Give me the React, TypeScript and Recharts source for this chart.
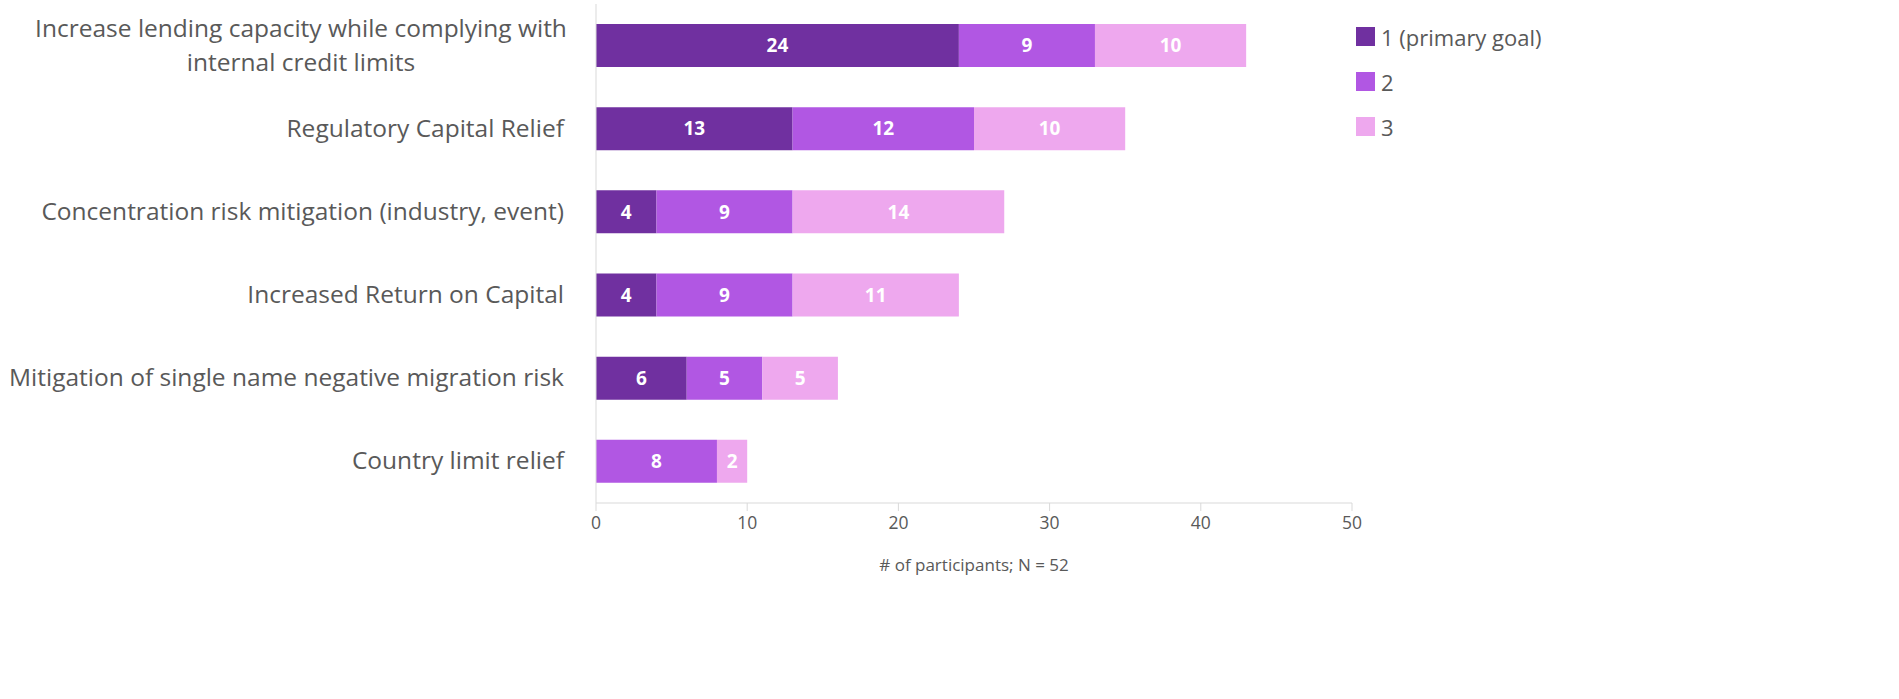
import React from 'react';
import {
  BarChart,
  Bar,
  XAxis,
  YAxis,
  CartesianGrid,
  Legend,
  LabelList
} from 'recharts';

const categories = [
  'Increase lending capacity while complying with internal credit limits',
  'Regulatory Capital Relief',
  'Concentration risk mitigation (industry, event)',
  'Increased Return on Capital',
  'Mitigation of single name negative migration risk',
  'Country limit relief'
];
const rank1 = [24, 13, 4, 4, 6, 0];
const rank2 = [9, 12, 9, 9, 5, 8];
const rank3 = [10, 10, 14, 11, 5, 2];
const xTicks = [0, 10, 20, 30, 40, 50];

const seriesNames = ['1 (primary goal)', '2', '3'];
const colors = ['#7030A0', '#B157E3', '#EEA8EE'];

const data = categories.map((name, i) => ({
  name,
  r1: rank1[i],
  r2: rank2[i],
  r3: rank3[i]
}));

const FONT = '"Open Sans", sans-serif';
const GREY = '#595959';

function wrap(text: string, max: number) {
  const words = text.split(' ');
  const lines: string[] = [];
  let cur = '';
  for (const w of words) {
    const next = cur ? cur + ' ' + w : w;
    if (next.length > max && cur) {
      lines.push(cur);
      cur = w;
    } else {
      cur = next;
    }
  }
  if (cur) lines.push(cur);
  return lines;
}

function CategoryTick(props: any) {
  const { x, y, payload } = props;
  const lines = wrap(payload.value, 50);
  const lh = 34;
  const start = -((lines.length - 1) * lh) / 2;
  const multi = lines.length > 1;
  const tx = multi ? 301 : x - 24;
  return (
    <text
      x={tx}
      y={y}
      textAnchor={multi ? 'middle' : 'end'}
      fill={GREY}
      fontSize={24.5}
      fontFamily={FONT}
    >
      {lines.map((l, i) => (
        <tspan key={i} x={tx} dy={i === 0 ? start + 8 : lh}>
          {l}
        </tspan>
      ))}
    </text>
  );
}

function LegendBox() {
  return (
    <div style={{ fontFamily: FONT }}>
      {seriesNames.map((n, i) => (
        <div
          key={n}
          style={{ display: 'flex', alignItems: 'center', height: 45, color: GREY, fontSize: 22 }}
        >
          <span
            style={{ width: 19, height: 19, background: colors[i], marginRight: 6, display: 'inline-block' }}
          />
          {n}
        </div>
      ))}
    </div>
  );
}

const hideZero = (v: any) => (v ? v : '');

export default function App() {
  const keys = ['r1', 'r2', 'r3'];
  return (
    <div style={{ position: 'absolute', left: 0, top: 0, width: 1899, height: 699, background: '#fff' }}>
      <BarChart
        width={1899}
        height={699}
        data={data}
        layout="vertical"
        margin={{ top: 4, right: 547, bottom: 106, left: 0 }}
        barCategoryGap="24%"
      >
        <CartesianGrid horizontal={false} vertical={false} />
        <XAxis
          type="number"
          domain={[0, 50]}
          ticks={xTicks}
          stroke="#D9D9D9"
          tickSize={8}
          tick={{ fill: GREY, fontSize: 17.5, fontFamily: FONT }}
          tickMargin={6}
          height={90}
          label={{
            value: '# of participants; N = 52',
            position: 'insideBottom',
            offset: 22,
            fill: GREY,
            fontSize: 17,
            fontFamily: FONT
          }}
        />
        <YAxis
          type="category"
          dataKey="name"
          width={596}
          stroke="#D9D9D9"
          tickLine={false}
          tick={<CategoryTick />}
        />
        <Legend
          layout="vertical"
          align="center"
          verticalAlign="middle"
          content={<LegendBox />}
          wrapperStyle={{ left: 1356, top: 14, width: 300 }}
        />
        {keys.map((k, i) => (
          <Bar
            key={k}
            dataKey={k}
            name={seriesNames[i]}
            stackId="a"
            fill={colors[i]}
            isAnimationActive={false}
          >
            <LabelList
              dataKey={k}
              position="center"
              fill="#fff"
              fontSize={19}
              fontWeight="bold"
              fontFamily={FONT}
              formatter={hideZero}
            />
          </Bar>
        ))}
      </BarChart>
    </div>
  );
}
